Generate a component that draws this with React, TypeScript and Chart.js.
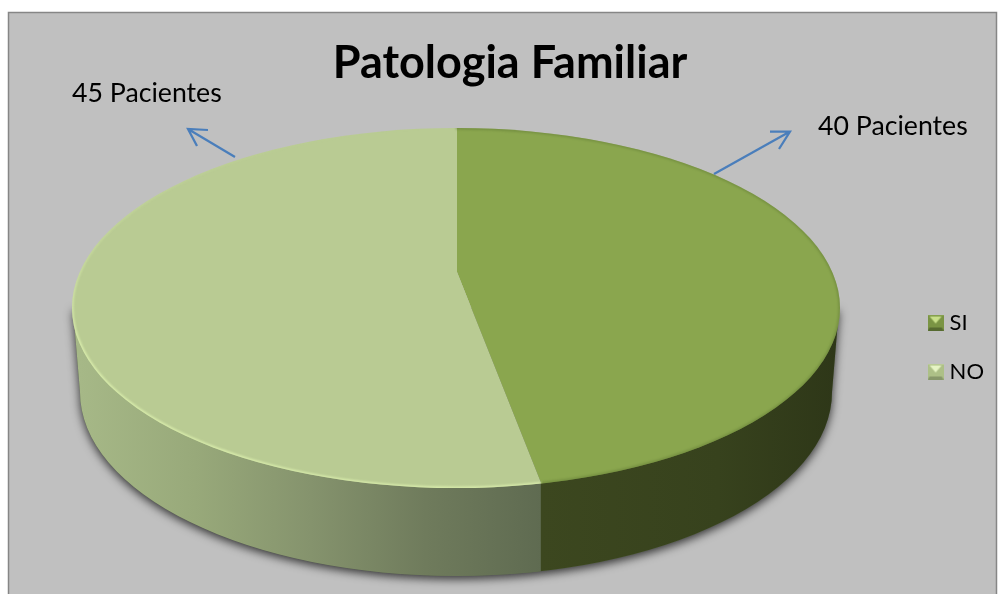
import React, { useEffect, useRef } from "react";
import { Chart, registerables } from "chart.js";

Chart.register(...registerables);

const titleText = "Patologia Familiar";
const categories = ["SI", "NO"];
const patients = [40, 45];
const sliceColors = ["#8aa64e", "#b9cb93"];
const callouts = ["40 Pacientes", "45 Pacientes"];
const FONT = "Lato, 'Open Sans', sans-serif";

// Projection of the flat pie onto the tilted disc
const TOP = { cx: 456, cy: 308, rx: 384, ry: 180 };
const BOTTOM = { cx: 456, cy: 392, rx: 376, ry: 184 };
const APEX = { x: 457, y: 272 };
const TILT = TOP.ry / TOP.rx;
const REACH = 540;

function legendMarker(base: string, light: string, dark: string, glow: string) {
  const c = document.createElement("canvas");
  c.width = 16;
  c.height = 16;
  const x = c.getContext("2d")!;
  x.fillStyle = base;
  x.fillRect(0, 0, 16, 16);
  x.fillStyle = dark;
  x.beginPath();
  x.moveTo(0, 16);
  x.lineTo(16, 16);
  x.lineTo(14, 13);
  x.lineTo(2, 13);
  x.closePath();
  x.fill();
  x.fillStyle = light;
  x.beginPath();
  x.moveTo(2, 2);
  x.lineTo(14, 2);
  x.lineTo(8, 9);
  x.closePath();
  x.fill();
  x.fillStyle = glow;
  x.fillRect(0, 0, 16, 1);
  return c;
}

function arrow(ctx: CanvasRenderingContext2D, sx: number, sy: number, tx: number, ty: number, b1: number[], b2: number[]) {
  ctx.beginPath();
  ctx.moveTo(sx, sy);
  ctx.lineTo(tx, ty);
  ctx.moveTo(b1[0], b1[1]);
  ctx.lineTo(tx, ty);
  ctx.lineTo(b2[0], b2[1]);
  ctx.stroke();
}

const scenePlugin = {
  id: "scene",
  beforeDraw(chart: any) {
    const ctx = chart.ctx;
    ctx.save();
    ctx.fillStyle = "#ffffff";
    ctx.fillRect(0, 0, chart.width, chart.height);
    ctx.fillStyle = "#c0c0c0";
    ctx.strokeStyle = "#868686";
    ctx.lineWidth = 1.5;
    ctx.fillRect(8.5, 12.5, 988, 590);
    ctx.strokeRect(8.5, 12.5, 988, 590);
    ctx.restore();
  },
  beforeDatasetsDraw(chart: any) {
    const ctx = chart.ctx as CanvasRenderingContext2D;
    const arcs = chart.getDatasetMeta(0).data;
    const arc0 = arcs[0];
    const end = arc0.endAngle;
    // intersection of the SI/NO boundary ray with the rim of the top face
    const dx = Math.cos(end);
    const dy = Math.sin(end) * TILT;
    const ox = (APEX.x - TOP.cx) / TOP.rx;
    const oy = (APEX.y - TOP.cy) / TOP.ry;
    const ux = dx / TOP.rx;
    const uy = dy / TOP.ry;
    const a = ux * ux + uy * uy;
    const b = 2 * (ox * ux + oy * uy);
    const c = ox * ox + oy * oy - 1;
    const t = (-b + Math.sqrt(b * b - 4 * a * c)) / (2 * a);
    const split = { x: APEX.x + dx * t, y: APEX.y + dy * t };
    chart.$split = split;

    const hull = () => {
      ctx.beginPath();
      ctx.moveTo(TOP.cx - TOP.rx + 1, TOP.cy);
      ctx.lineTo(BOTTOM.cx - BOTTOM.rx, BOTTOM.cy);
      ctx.ellipse(BOTTOM.cx, BOTTOM.cy, BOTTOM.rx, BOTTOM.ry, 0, Math.PI, 0, true);
      ctx.lineTo(TOP.cx + TOP.rx - 1, TOP.cy);
      ctx.closePath();
    };

    ctx.save();
    ctx.shadowColor = "rgba(0,0,0,0.75)";
    ctx.shadowBlur = 10;
    ctx.shadowOffsetY = 3;
    ctx.fillStyle = "#5e6a50";
    hull();
    ctx.fill();
    ctx.restore();

    const left = ctx.createLinearGradient(80, 0, split.x, 0);
    left.addColorStop(0, "#a6b887");
    left.addColorStop(0.25, "#98a97a");
    left.addColorStop(0.5, "#85936d");
    left.addColorStop(0.75, "#6f7b5c");
    left.addColorStop(1, "#5f6b51");
    const right = ctx.createLinearGradient(split.x, 0, 836, 0);
    right.addColorStop(0, "#3c471f");
    right.addColorStop(0.6, "#37421d");
    right.addColorStop(1, "#2e3718");

    ctx.save();
    ctx.beginPath();
    ctx.rect(0, 0, split.x - 0.5, 594);
    ctx.clip();
    ctx.fillStyle = left;
    hull();
    ctx.fill();
    ctx.restore();

    ctx.save();
    ctx.beginPath();
    ctx.rect(split.x - 0.5, 0, 500, 594);
    ctx.clip();
    ctx.fillStyle = right;
    hull();
    ctx.fill();
    ctx.restore();

    // the library's arcs, seen through the rim of the tilted top face
    ctx.save();
    ctx.beginPath();
    ctx.ellipse(TOP.cx, TOP.cy, TOP.rx, TOP.ry, 0, 0, Math.PI * 2);
    ctx.clip();
    const s = REACH / arc0.outerRadius;
    ctx.translate(APEX.x, APEX.y);
    ctx.scale(s, s * TILT);
    ctx.translate(-arc0.x, -arc0.y);
  },
  afterDatasetsDraw(chart: any) {
    const ctx = chart.ctx as CanvasRenderingContext2D;
    ctx.restore();
    const split = chart.$split;
    const phi = Math.atan2((split.y - TOP.cy) / TOP.ry, (split.x - TOP.cx) / TOP.rx);
    const fade = (rgb: string) => {
      const g = ctx.createLinearGradient(0, 128, 0, 488);
      g.addColorStop(0, `rgba(${rgb},0)`);
      g.addColorStop(0.35, `rgba(${rgb},0.35)`);
      g.addColorStop(0.6, `rgba(${rgb},0.95)`);
      g.addColorStop(1, `rgba(${rgb},0.9)`);
      return g;
    };
    ctx.save();
    ctx.beginPath();
    ctx.ellipse(TOP.cx, TOP.cy, TOP.rx, TOP.ry, 0, 0, Math.PI * 2);
    ctx.clip();
    ctx.filter = "blur(1px)";
    ctx.lineWidth = 3;
    ctx.strokeStyle = fade("220,240,174");
    ctx.beginPath();
    ctx.ellipse(TOP.cx, TOP.cy, TOP.rx, TOP.ry, 0, phi, -Math.PI / 2);
    ctx.stroke();
    ctx.strokeStyle = "rgba(100,125,55,0.55)";
    ctx.beginPath();
    ctx.ellipse(TOP.cx, TOP.cy, TOP.rx, TOP.ry, 0, -Math.PI / 2, phi);
    ctx.stroke();
    ctx.restore();
  },
  afterDraw(chart: any) {
    const ctx = chart.ctx as CanvasRenderingContext2D;
    ctx.save();
    ctx.strokeStyle = "#4a7ebb";
    ctx.lineWidth = 2.25;
    arrow(ctx, 714, 174, 790, 131.5, [770, 131.5], [779, 149]);
    arrow(ctx, 235, 157, 188, 129, [208, 130], [197, 146]);
    ctx.fillStyle = "#000000";
    ctx.font = `26.7px ${FONT}`;
    ctx.textBaseline = "alphabetic";
    ctx.textAlign = "left";
    ctx.fillText(callouts[0], 818, 135);
    ctx.fillText(callouts[1], 72, 102);
    ctx.restore();
  },
};

export default function App() {
  const ref = useRef<HTMLCanvasElement>(null);
  useEffect(() => {
    const markers = [
      legendMarker("#7a9444", "#c9e08a", "#566a30", "#93ad58"),
      legendMarker("#adc087", "#e6f4c4", "#87976a", "#c6d5a6"),
    ];
    const chart = new Chart(ref.current!, {
      type: "pie",
      data: {
        labels: categories,
        datasets: [
          {
            data: patients,
            backgroundColor: sliceColors,
            borderWidth: 0,
            clip: false,
          } as any,
        ],
      },
      options: {
        responsive: false,
        animation: false,
        layout: { padding: { left: 26, right: 5, top: 36, bottom: 0 } },
        plugins: {
          tooltip: { enabled: false },
          title: {
            display: true,
            text: titleText,
            color: "#000000",
            font: { family: FONT, size: 45, weight: "bold" },
            padding: { top: 0, bottom: 10 },
          },
          legend: {
            position: "right",
            fullSize: false,
            labels: {
              usePointStyle: true,
              boxWidth: 6,
              padding: 27,
              color: "#000000",
              font: { family: FONT, size: 22 },
              generateLabels: () =>
                categories.map((text, i) => ({
                  text,
                  pointStyle: markers[i],
                  fillStyle: sliceColors[i],
                  strokeStyle: sliceColors[i],
                  lineWidth: 0,
                  hidden: false,
                  index: i,
                })),
            },
          },
        },
      },
      plugins: [scenePlugin],
    } as any);
    return () => chart.destroy();
  }, []);
  return (
    <canvas
      ref={ref}
      width={999}
      height={594}
      style={{ position: "fixed", left: 0, top: 0, width: 999, height: 594, display: "block" }}
    />
  );
}
